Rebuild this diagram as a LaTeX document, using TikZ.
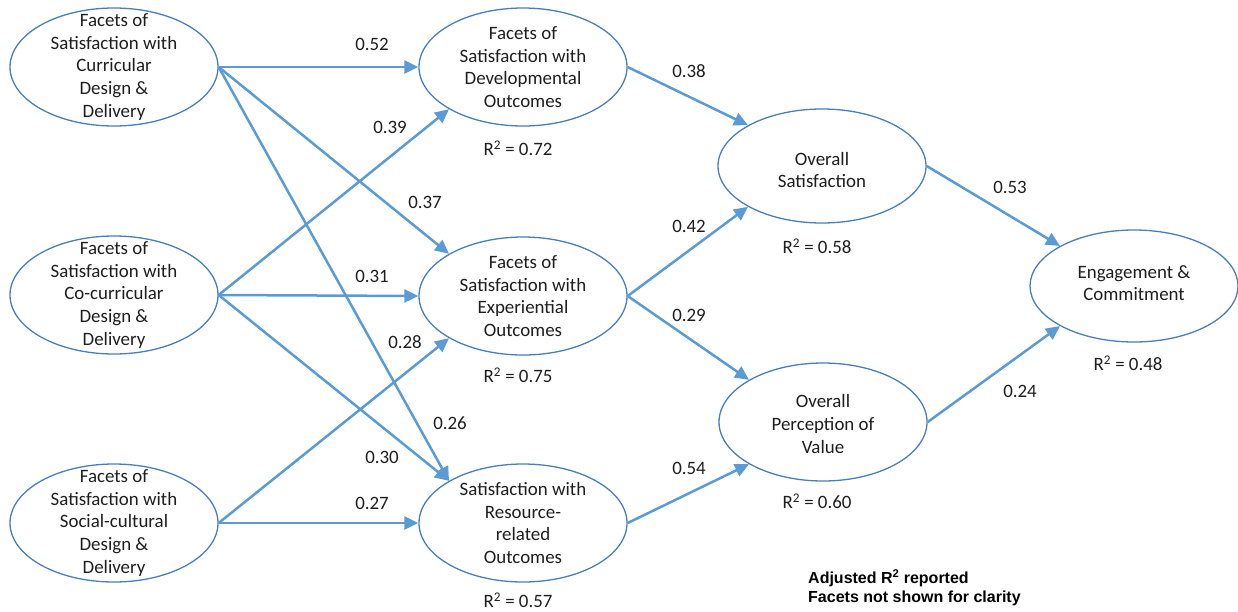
\documentclass[tikz,border=0pt]{standalone}
\usepackage{fontspec}
\setmainfont{Carlito}
\newfontfamily\notefont{Liberation Sans}
\usetikzlibrary{arrows.meta,shapes.geometric}
\definecolor{pathblue}{HTML}{5B9BD5}
\definecolor{rimblue}{HTML}{4A7EBB}
\definecolor{inkgray}{HTML}{1E1E1E}
\begin{document}
\begin{tikzpicture}[x=1pt,y=-1pt,
  construct/.style={ellipse, draw=rimblue, line width=1.3pt, fill=white,
    minimum width=208pt, minimum height=118pt, inner sep=0pt},
  ctext/.style={align=center, text=inkgray, inner sep=0pt,
    font=\fontsize{18.9}{22.6}\selectfont},
  coef/.style={text=inkgray, inner sep=0pt, font=\fontsize{18.9}{22.6}\selectfont},
  link/.style={draw=pathblue, line width=2.5pt, -{Triangle[length=14pt,width=13pt]}}
]
\useasboundingbox (0,0) rectangle (1238,611);

% predictors
\node[construct, label={[ctext]center:{Facets of\\Satisfaction with\\Curricular\\Design \&\\Delivery}}] (cur) at (114,67) {};
\node[construct, label={[ctext]center:{Facets of\\Satisfaction with\\Co-curricular\\Design \&\\Delivery}}] (co) at (114,295) {};
\node[construct, label={[ctext]center:{Facets of\\Satisfaction with\\Social-cultural\\Design \&\\Delivery}}] (soc) at (114,523) {};

% outcome facets
\node[construct, label={[ctext]center:{Facets of\\Satisfaction with\\Developmental\\Outcomes}}] (dev) at (523,67) {};
\node[construct, label={[ctext]center:{Facets of\\Satisfaction with\\Experiential\\Outcomes}}] (exp) at (523,296) {};
\node[construct, label={[ctext]center:{Satisfaction with\\Resource-\\related\\Outcomes}}] (res) at (523,523) {};

% overall evaluations
\node[construct, minimum height=114pt, label={[ctext, yshift=-4pt]center:{Overall\\Satisfaction}}] (os) at (822,166) {};
\node[construct, label={[ctext, yshift=-2pt]center:{Overall\\Perception of\\Value}}] (pv) at (823,422) {};

% final outcome
\node[construct, minimum height=112pt, label={[ctext, yshift=3pt]center:{Engagement \&\\Commitment}}] (eng) at (1134,286) {};

% explained variance
\node[coef] (r72) at (518,148) {R\textsuperscript{2} = 0.72};
\node[coef] (r75) at (518,375) {R\textsuperscript{2} = 0.75};
\node[coef] (r57) at (518,600) {R\textsuperscript{2} = 0.57};
\node[coef] (r58) at (817,246) {R\textsuperscript{2} = 0.58};
\node[coef] (r60) at (817,501) {R\textsuperscript{2} = 0.60};
\node[coef] (r48) at (1128,363) {R\textsuperscript{2} = 0.48};

% paths
\draw[link] (cur.east) -- (dev.west);
\draw[link] (cur.east) -- (exp.north west);
\draw[link] (cur.east) -- (res.north west);
\draw[link] (co.east) -- (dev.south west);
\draw[link] (co.east) -- (exp.west);
\draw[link] (co.east) -- (res.north west);
\draw[link] (soc.east) -- (exp.south west);
\draw[link] (soc.east) -- (res.west);
\draw[link] (dev.east) -- (os.north west);
\draw[link] (exp.east) -- (os.south west);
\draw[link] (exp.east) -- (pv.north west);
\draw[link] (res.east) -- (pv.south west);
\draw[link] (os.east) -- (eng.north west);
\draw[link] (pv.east) -- (eng.south west);

% path coefficients
\node[coef] (c52) at (372,44) {0.52};
\node[coef] (c39) at (390,127) {0.39};
\node[coef] (c37) at (425,202) {0.37};
\node[coef] (c31) at (372,276) {0.31};
\node[coef] (c28) at (405,342) {0.28};
\node[coef] (c26) at (450,423) {0.26};
\node[coef] (c30) at (382,457) {0.30};
\node[coef] (c27) at (372,503) {0.27};
\node[coef] (c38) at (689,71) {0.38};
\node[coef] (c42) at (689,226) {0.42};
\node[coef] (c29) at (689,315) {0.29};
\node[coef] (c54) at (689,468) {0.54};
\node[coef] (c53) at (1010,187) {0.53};
\node[coef] (c24) at (1020,391) {0.24};

% notes
\node[anchor=west, align=left, inner sep=0pt, text=black,
  font=\notefont\bfseries\fontsize{16}{19}\selectfont] (note) at (808,587.5)
  {Adjusted R\textsuperscript{2} reported\\Facets not shown for clarity};
\end{tikzpicture}
\end{document}
